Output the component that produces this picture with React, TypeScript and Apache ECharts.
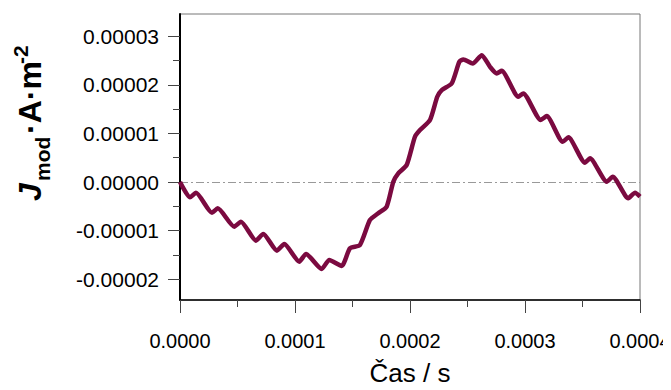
import React, { useEffect, useRef } from "react";
import * as echarts from "echarts";

// Time (s)
const timeS = [
  0, 0.87e-5, 1.39e-5, 2.78e-5, 3.28e-5, 4.72e-5, 5.3e-5, 6.61e-5, 7.24e-5, 8.43e-5,
  9.07e-5, 10.37e-5, 10.96e-5, 12.32e-5, 12.98e-5, 14.06e-5, 14.78e-5, 15.65e-5, 16.52e-5, 17.24e-5,
  17.97e-5, 18.55e-5, 18.98e-5, 19.71e-5, 20.43e-5, 20.87e-5, 21.74e-5, 22.37e-5, 22.76e-5, 23.63e-5,
  24.29e-5, 24.64e-5, 25.45e-5, 26.24e-5, 26.96e-5, 27.54e-5, 27.97e-5, 29.42e-5, 29.85e-5, 31.37e-5,
  31.89e-5, 33.28e-5, 33.77e-5, 35.22e-5, 35.65e-5, 37.11e-5, 37.63e-5, 38.98e-5, 39.57e-5, 40.0e-5,
];
// J_mod (A·m^-2)
const jmod = [
  0, -0.315e-5, -0.22e-5, -0.632e-5, -0.541e-5, -0.92e-5, -0.817e-5, -1.208e-5, -1.07e-5, -1.414e-5,
  -1.276e-5, -1.64e-5, -1.481e-5, -1.79e-5, -1.605e-5, -1.728e-5, -1.364e-5, -1.296e-5, -0.782e-5, -0.644e-5,
  -0.508e-5, 0.006e-5, 0.179e-5, 0.35e-5, 0.932e-5, 1.07e-5, 1.276e-5, 1.755e-5, 1.893e-5, 2.031e-5,
  2.475e-5, 2.525e-5, 2.442e-5, 2.613e-5, 2.372e-5, 2.237e-5, 2.29e-5, 1.755e-5, 1.825e-5, 1.276e-5,
  1.358e-5, 0.829e-5, 0.92e-5, 0.397e-5, 0.488e-5, 0.006e-5, 0.109e-5, -0.335e-5, -0.22e-5, -0.302e-5,
];

const yMajorTicks = [-0.00002, -0.00001, 0, 0.00001, 0.00002, 0.00003];
const yMinorTicks = [-0.000015, -0.000005, 0.000005, 0.000015, 0.000025];
const yMin = -0.0000243;
const yMax = 0.0000346;

const FONT = "'Liberation Sans', Arial, sans-serif";

export default function App() {
  const ref = useRef<HTMLDivElement>(null);
  useEffect(() => {
    if (!ref.current) return;
    const chart = echarts.init(ref.current, undefined, { renderer: "svg" });
    const data = timeS.map((t, i) => [t, jmod[i]]);
    chart.setOption({
      animation: false,
      backgroundColor: "#ffffff",
      textStyle: { fontFamily: FONT },
      grid: {
        left: 180,
        right: 31,
        top: 14,
        bottom: 90,
        outerBoundsMode: "none",
        containLabel: false,
        show: true,
        borderColor: "#777777",
        borderWidth: 1,
      },
      xAxis: {
        type: "value",
        min: 0,
        max: 0.0004,
        interval: 0.0001,
        axisLine: { show: true, onZero: false, lineStyle: { color: "#000", width: 1.5 } },
        axisTick: { show: true, length: 13, lineStyle: { color: "#444", width: 1 } },
        minorTick: { show: true, splitNumber: 2, length: 7, lineStyle: { color: "#444", width: 1 } },
        splitLine: { show: false },
        minorSplitLine: { show: false },
        axisLabel: {
          formatter: (v: number) => v.toFixed(4),
          fontSize: 20,
          color: "#000",
          margin: 31,
          fontFamily: FONT,
        },
        name: "Čas / s",
        nameLocation: "middle",
        nameGap: 60,
        nameTextStyle: { fontSize: 26, color: "#000", fontFamily: FONT },
      },
      yAxis: [
        {
          type: "value",
          position: "left",
          min: yMin,
          max: yMax,
          axisLine: { show: true, onZero: false, lineStyle: { color: "#000", width: 2 } },
          axisTick: { show: true, length: 12, customValues: yMajorTicks, lineStyle: { color: "#444", width: 1 } },
          axisLabel: {
            customValues: yMajorTicks,
            formatter: (v: number) => v.toFixed(5),
            fontSize: 21,
            color: "#000",
            margin: 21,
            fontFamily: FONT,
          },
          splitLine: { show: false },
        },
        {
          type: "value",
          position: "right",
          offset: -460,
          min: yMin,
          max: yMax,
          axisLine: { show: false, onZero: false },
          axisTick: { show: true, inside: true, length: 7, customValues: yMinorTicks, lineStyle: { color: "#444", width: 1 } },
          axisLabel: { show: false },
          splitLine: { show: false },
        },
      ],
      graphic: [
        {
          type: "group",
          x: 46,
          y: 201,
          rotation: Math.PI / 2,
          children: [
            {
              type: "text",
              x: 0,
              y: 0,
              style: { text: "J", font: `italic bold 32px ${FONT}`, fill: "#000", verticalAlign: "bottom", align: "left" },
            },
            {
              type: "text",
              x: 20,
              y: 7,
              style: { text: "mod", font: `bold 21px ${FONT}`, fill: "#000", verticalAlign: "bottom", align: "left" },
            },
            {
              type: "text",
              x: 67,
              y: 0,
              style: { text: "·A·m", font: `bold 32px ${FONT}`, fill: "#000", verticalAlign: "bottom", align: "left" },
            },
            {
              type: "text",
              x: 137,
              y: -15,
              style: { text: "-2", font: `bold 21px ${FONT}`, fill: "#000", verticalAlign: "bottom", align: "left" },
            },
          ],
        },
      ],
      series: [
        {
          type: "line",
          yAxisIndex: 0,
          data,
          showSymbol: false,
          smooth: 0.2,
          lineStyle: { color: "#7b0a40", width: 4.5 },
          z: 3,
          markLine: {
            silent: true,
            symbol: ["none", "none"],
            label: { show: false },
            lineStyle: { color: "#999999", type: [8, 3, 2, 3], width: 1 },
            data: [{ yAxis: 0 }],
            z: 1,
          },
        },
      ],
    });
    return () => chart.dispose();
  }, []);
  return <div ref={ref} style={{ width: 671, height: 390, marginLeft: -8, marginTop: -8 }} />;
}
